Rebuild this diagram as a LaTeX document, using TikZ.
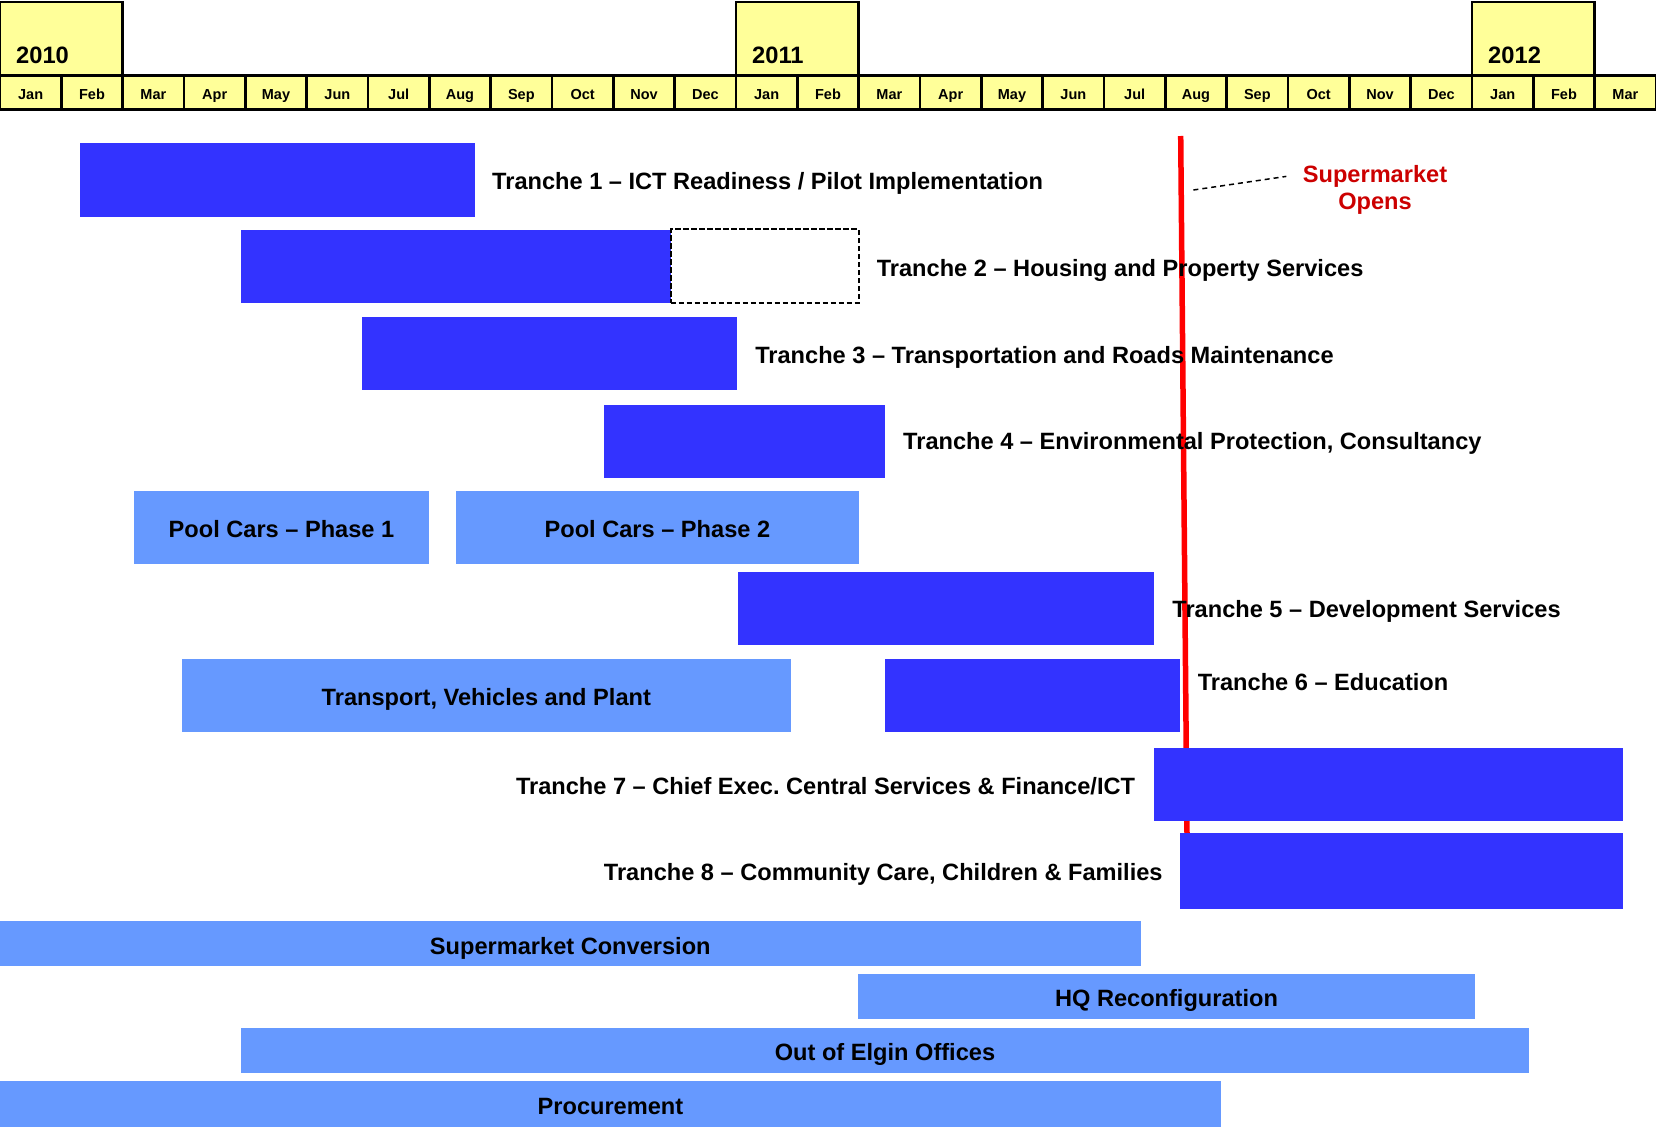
\documentclass[tikz,border=0pt]{standalone}
\usepackage{fontspec}
\setmainfont{Liberation Sans}
\definecolor{hdryellow}{HTML}{FFFF99}
\definecolor{barblue}{HTML}{3333FF}
\definecolor{lightblue}{HTML}{6699FF}
\definecolor{openred}{HTML}{CC0000}
\definecolor{lineRed}{HTML}{FF0000}
\begin{document}
\begin{tikzpicture}[x=1pt,y=-1pt,
  month/.style={draw=black, line width=2.5pt, fill=hdryellow, inner sep=0pt, outer sep=0pt,
    minimum width=61.333pt, minimum height=34pt, text height=14pt, text depth=0pt,
    font=\fontsize{14.5}{17}\selectfont\bfseries},
  yearbox/.style={draw=black, line width=2.5pt, fill=hdryellow, inner sep=0pt, outer sep=0pt,
    minimum width=122.667pt, minimum height=73pt},
  yeartxt/.style={inner sep=0pt, anchor=west, font=\fontsize{23.7}{28}\selectfont\bfseries},
  darkbar/.style={fill=barblue, draw=none, inner sep=0pt, outer sep=0pt, anchor=north west},
  lightbar/.style={fill=lightblue, draw=none, inner sep=0pt, outer sep=0pt,
    text height=20.9pt, text depth=0pt,
    font=\fontsize{23.6}{28}\selectfont\bfseries},
  lbl/.style={inner sep=0pt, text height=16.9pt, text depth=0pt,
    font=\fontsize{23.6}{28}\selectfont\bfseries},
  holdbox/.style={draw=black, line width=2.2pt, dash pattern=on 5.5pt off 2.5pt, fill=white,
    inner sep=0pt, outer sep=0pt, anchor=north west},
  openline/.style={draw=lineRed, line width=5.5pt},
  leader/.style={draw=black, line width=1.5pt, dash pattern=on 5pt off 4pt}]
\useasboundingbox (0,0) rectangle (1656,1129);

% ---- year boxes ----
\node[yearbox] (y2010) at (61.333,38.5) {};
\node[yearbox] (y2011) at (797.333,38.5) {};
\node[yearbox] (y2012) at (1533.333,38.5) {};
\node[yeartxt] (y2010t) at (16,55) {2010};
\node[yeartxt] (y2011t) at (752,55) {2011};
\node[yeartxt] (y2012t) at (1488,55) {2012};

% ---- month row ----
\foreach \m [count=\i from 0] in {Jan,Feb,Mar,Apr,May,Jun,Jul,Aug,Sep,Oct,Nov,Dec,
    Jan,Feb,Mar,Apr,May,Jun,Jul,Aug,Sep,Oct,Nov,Dec,Jan,Feb,Mar}
  \node[month] (m\i) at ({\i*61.333+30.667},92.5) {\m};

% ---- "supermarket opens" marker line ----
\coordinate (rtop) at (1180.7,136);
\coordinate (rbot) at (1187,834);
\draw[openline] (rtop) -- (rbot);

% ---- tranche bars ----
\node[darkbar, minimum width=395pt, minimum height=74pt] (t1) at (80,142.7) {};
\node[darkbar, minimum width=430pt, minimum height=73pt] (t2) at (240.8,230.2) {};
\node[holdbox, minimum width=188pt, minimum height=74pt] (t2x) at (670.6,229.2) {};
\node[darkbar, minimum width=375pt, minimum height=73pt] (t3) at (362.2,316.8) {};
\node[darkbar, minimum width=281pt, minimum height=73pt] (t4) at (604.1,404.5) {};
\node[darkbar, minimum width=416pt, minimum height=73pt] (t5) at (738.2,572.4) {};
\node[darkbar, minimum width=294.7pt, minimum height=73pt] (t6) at (885,659) {};
\node[darkbar, minimum width=469pt, minimum height=73pt] (t7) at (1154.3,747.7) {};
\node[darkbar, minimum width=443.5pt, minimum height=76pt] (t8) at (1179.7,833.2) {};

% ---- light bars with inner text ----
\node[lightbar, minimum width=294.7pt, minimum height=73pt] (pc1) at (281.5,527.5) {Pool Cars -- Phase 1};
\node[lightbar, minimum width=402.4pt, minimum height=73pt] (pc2) at (657.4,527.5) {Pool Cars -- Phase 2};
\node[lightbar, minimum width=609.4pt, minimum height=73pt] (tvp) at (486.3,695.5) {Transport, Vehicles and Plant};
\node[lightbar, minimum width=1140.6pt, minimum height=45.4pt] (smc) at (570.3,943.6) {Supermarket Conversion};
\node[lightbar, minimum width=617.8pt, minimum height=45.4pt] (hqr) at (1166.5,996.4) {HQ Reconfiguration};
\node[lightbar, minimum width=1288.4pt, minimum height=45.4pt] (oeo) at (885,1050.3) {Out of Elgin Offices};
\node[lightbar, minimum width=1220.9pt, minimum height=45.4pt] (prc) at (610.45,1104.1) {Procurement};

% ---- tranche labels ----
\node[lbl, anchor=west] (t1l) at (492,181) {Tranche 1 -- ICT Readiness / Pilot Implementation};
\node[lbl, anchor=west] (t2l) at (876.6,268) {Tranche 2 -- Housing and Property Services};
\node[lbl, anchor=west] (t3l) at (755.1,354.8) {Tranche 3 -- Transportation and Roads Maintenance};
\node[lbl, anchor=west] (t4l) at (903,441.4) {Tranche 4 -- Environmental Protection, Consultancy};
\node[lbl, anchor=west] (t5l) at (1172.2,609.5) {Tranche 5 -- Development Services};
\node[lbl, anchor=west] (t6l) at (1197.6,682.3) {Tranche 6 -- Education};
\node[lbl, anchor=east] (t7l) at (1135.3,785.7) {Tranche 7 -- Chief Exec.\ Central Services \& Finance/ICT};
\node[lbl, anchor=east] (t8l) at (1162.8,872.3) {Tranche 8 -- Community Care, Children \& Families};

% ---- annotation ----
\node[inner sep=0pt, text=openred, align=center,
  font=\fontsize{23.6}{27.4}\selectfont\bfseries] (sm) at (1375,190) {Supermarket\\Opens};
\coordinate (ldA) at (1193.4,190);
\coordinate (ldB) at (1286.3,176.4);
\draw[leader] (ldA) -- (ldB);
\end{tikzpicture}
\end{document}
